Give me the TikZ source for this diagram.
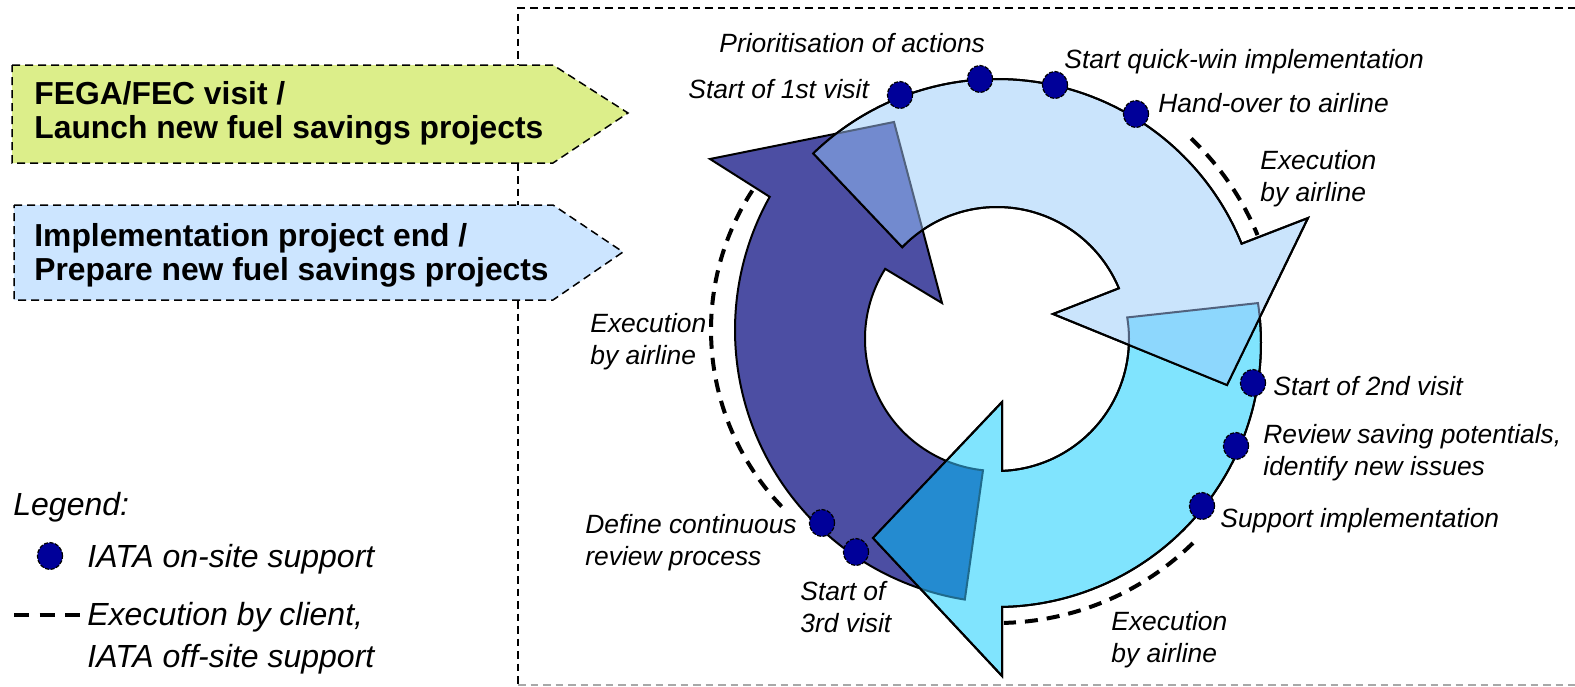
\documentclass[tikz,border=0pt]{standalone}
\usepackage{fontspec}
\setmainfont{Liberation Sans}
\usetikzlibrary{calc,shapes.geometric}

\definecolor{darkarrow}{HTML}{4C4EA3}
\definecolor{lightarrow}{HTML}{CAE4FC}
\definecolor{cyanarrow}{HTML}{80E4FE}
\definecolor{darkunderlight}{HTML}{728ACF}
\definecolor{cyanunderlight}{HTML}{8DD7FD}
\definecolor{darkundercyan}{HTML}{248BD0}
\definecolor{edgegray}{HTML}{51627E}
\definecolor{edgeteal}{HTML}{1F6A8C}
\definecolor{dotblue}{HTML}{000099}
\definecolor{launchgreen}{HTML}{DCEE8A}
\definecolor{prepareblue}{HTML}{CCE5FF}
\definecolor{framegray}{HTML}{A8A8A8}

% outlines of the three circular arrows (centres defined inside the picture)
\newcommand\darkarrowpath{($(Ci)+(96.1:132)$) -- ($(Cd)+(99.1:273)$)
  arc[start angle=99.1, end angle=209.2, radius=273]
  -- (710,159) -- (894,122) -- (942,303)
  -- ($(Ci)+(212.1:132)$) arc[start angle=212.1, end angle=96.1, radius=132] -- cycle}
\newcommand\lightarrowpath{($(Ci)+(224.1:132)$) -- ($(Co)+(225.9:264)$)
  arc[start angle=225.9, end angle=337.9, radius=264]
  -- (1308,218) -- (1227,385) -- (1053,314)
  -- ($(Ci)+(337.4:132)$) arc[start angle=337.4, end angle=224.1, radius=132] -- cycle}
\newcommand\cyanarrowpath{($(Ci)+(-9.4:132)$) -- ($(Co)+(-8.7:264)$)
  arc[start angle=-8.7, end angle=88.9, radius=264]
  -- (1002,676) -- (873,538) -- (1002,402)
  -- ($(Ci)+(87.8:132)$) arc[start angle=87.8, end angle=-9.4, radius=132] -- cycle}

\begin{document}
\begin{tikzpicture}[x=0.5pt, y=-0.5pt,
  arrowbody/.style={draw=black, line width=1pt, line join=miter},
  phasebox/.style={draw=black, line width=0.75pt, dash pattern=on 4pt off 2.5pt},
  boxtext/.style={font=\fontsize{15.9}{16.6}\selectfont\bfseries, align=left, anchor=base west, inner sep=0pt},
  lbl/.style={font=\fontsize{13.2}{15.8}\selectfont\itshape, align=left, anchor=base west, inner sep=0pt},
  legendtext/.style={font=\fontsize{16}{20.8}\selectfont\itshape, align=left, anchor=base west, inner sep=0pt},
  sitedot/.style={ellipse, minimum width=12.5pt, minimum height=13.5pt, inner sep=0pt,
    fill=dotblue, draw=black, line width=0.6pt, dash pattern=on 2pt off 0.8pt},
  execdash/.style={line width=2pt, dash pattern=on 6.5pt off 4.5pt},
  frameline/.style={line width=0.75pt, dash pattern=on 3.75pt off 2.5pt},
]
\useasboundingbox (0,0) rectangle (1575,686);

\coordinate (Co) at (997,343);  % outer rim, light and cyan arrows
\coordinate (Ci) at (997,339);  % inner rim
\coordinate (Cd) at (1008,330); % outer rim, dark arrow
\coordinate (Cl) at (967,330);  % left dashed arc

% frame of the cycle area
\draw[frameline] (1575,8) -- (518,8) -- (518,685);
\draw[frameline, draw=framegray] (518,685) -- (1575,685);

% phase boxes (multi-line texts are placed by the baseline of their last line)
\path[phasebox, fill=launchgreen] (12,65) -- (553,65) -- (628,113) -- (553,163) -- (12,163) -- cycle;
\path[phasebox, fill=prepareblue] (14,205) -- (553,205) -- (623,252) -- (553,300) -- (14,300) -- cycle;
\node[boxtext] (launch) at (34,138) {FEGA/FEC visit /\\Launch new fuel savings projects};
\node[boxtext] (prepare) at (34,280) {Implementation project end /\\Prepare new fuel savings projects};

% cycle arrows
\path[arrowbody, fill=darkarrow] \darkarrowpath;
\path[arrowbody, fill=cyanarrow] \cyanarrowpath;
\begin{scope}
  \clip \cyanarrowpath;
  \path[line width=1pt, fill=darkundercyan, draw=edgeteal] \darkarrowpath;
\end{scope}
\path[arrowbody] \cyanarrowpath;
\path[arrowbody, fill=lightarrow] \lightarrowpath;
\begin{scope}
  \clip \lightarrowpath;
  \path[line width=1pt, fill=darkunderlight, draw=edgegray] \darkarrowpath;
  \path[line width=1pt, fill=cyanunderlight, draw=edgegray] \cyanarrowpath;
\end{scope}
\path[arrowbody] \lightarrowpath;

% off-site execution periods
\draw[execdash] ($(Co)+(313.5:282)$) arc[start angle=313.5, end angle=337.5, radius=282];
\draw[execdash] ($(Co)+(45.6:280)$) arc[start angle=45.6, end angle=88.6, radius=280];
\draw[execdash] ($(Cl)+(136.4:256)$) arc[start angle=136.4, end angle=213, radius=256];

% on-site support milestones
\node[sitedot] (v1) at (900,95) {};
\node[sitedot] (v2) at (980,79) {};
\node[sitedot] (v3) at (1055,85) {};
\node[sitedot] (v4) at (1136,114) {};
\node[sitedot] (v5) at (1253,383) {};
\node[sitedot] (v6) at (1236,446) {};
\node[sitedot] (v7) at (1202,506) {};
\node[sitedot] (v8) at (822,523) {};
\node[sitedot] (v9) at (856,552) {};

\node[lbl] (t2) at (719,52) {Prioritisation of actions};
\node[lbl] (t1) at (688,98) {Start of 1st visit};
\node[lbl] (t3) at (1064,68) {Start quick-win implementation};
\node[lbl] (t4) at (1158,112) {Hand-over to airline};
\node[lbl] (e1) at (1260,201) {Execution\\by airline};
\node[lbl] (t5) at (1273,395) {Start of 2nd visit};
\node[lbl] (t6) at (1263,475) {Review saving potentials,\\identify new issues};
\node[lbl] (t7) at (1220,527) {Support implementation};
\node[lbl] (e2) at (1111,662) {Execution\\by airline};
\node[lbl] (t8) at (585,565) {Define continuous\\review process};
\node[lbl] (t9) at (800,632) {Start of\\3rd visit};
\node[lbl] (e3) at (590,364) {Execution\\by airline};

% legend
\node[legendtext] (legend) at (13,515) {Legend:};
\node[sitedot] (legdot) at (50,556) {};
\node[legendtext] (legdottxt) at (87,567) {IATA on-site support};
\draw[line width=2pt, dash pattern=on 7.5pt off 5.25pt] (14,615) -- (80,615);
\node[legendtext] (legdashtxt) at (87,667) {Execution by client,\\IATA off-site support};
\end{tikzpicture}
\end{document}
